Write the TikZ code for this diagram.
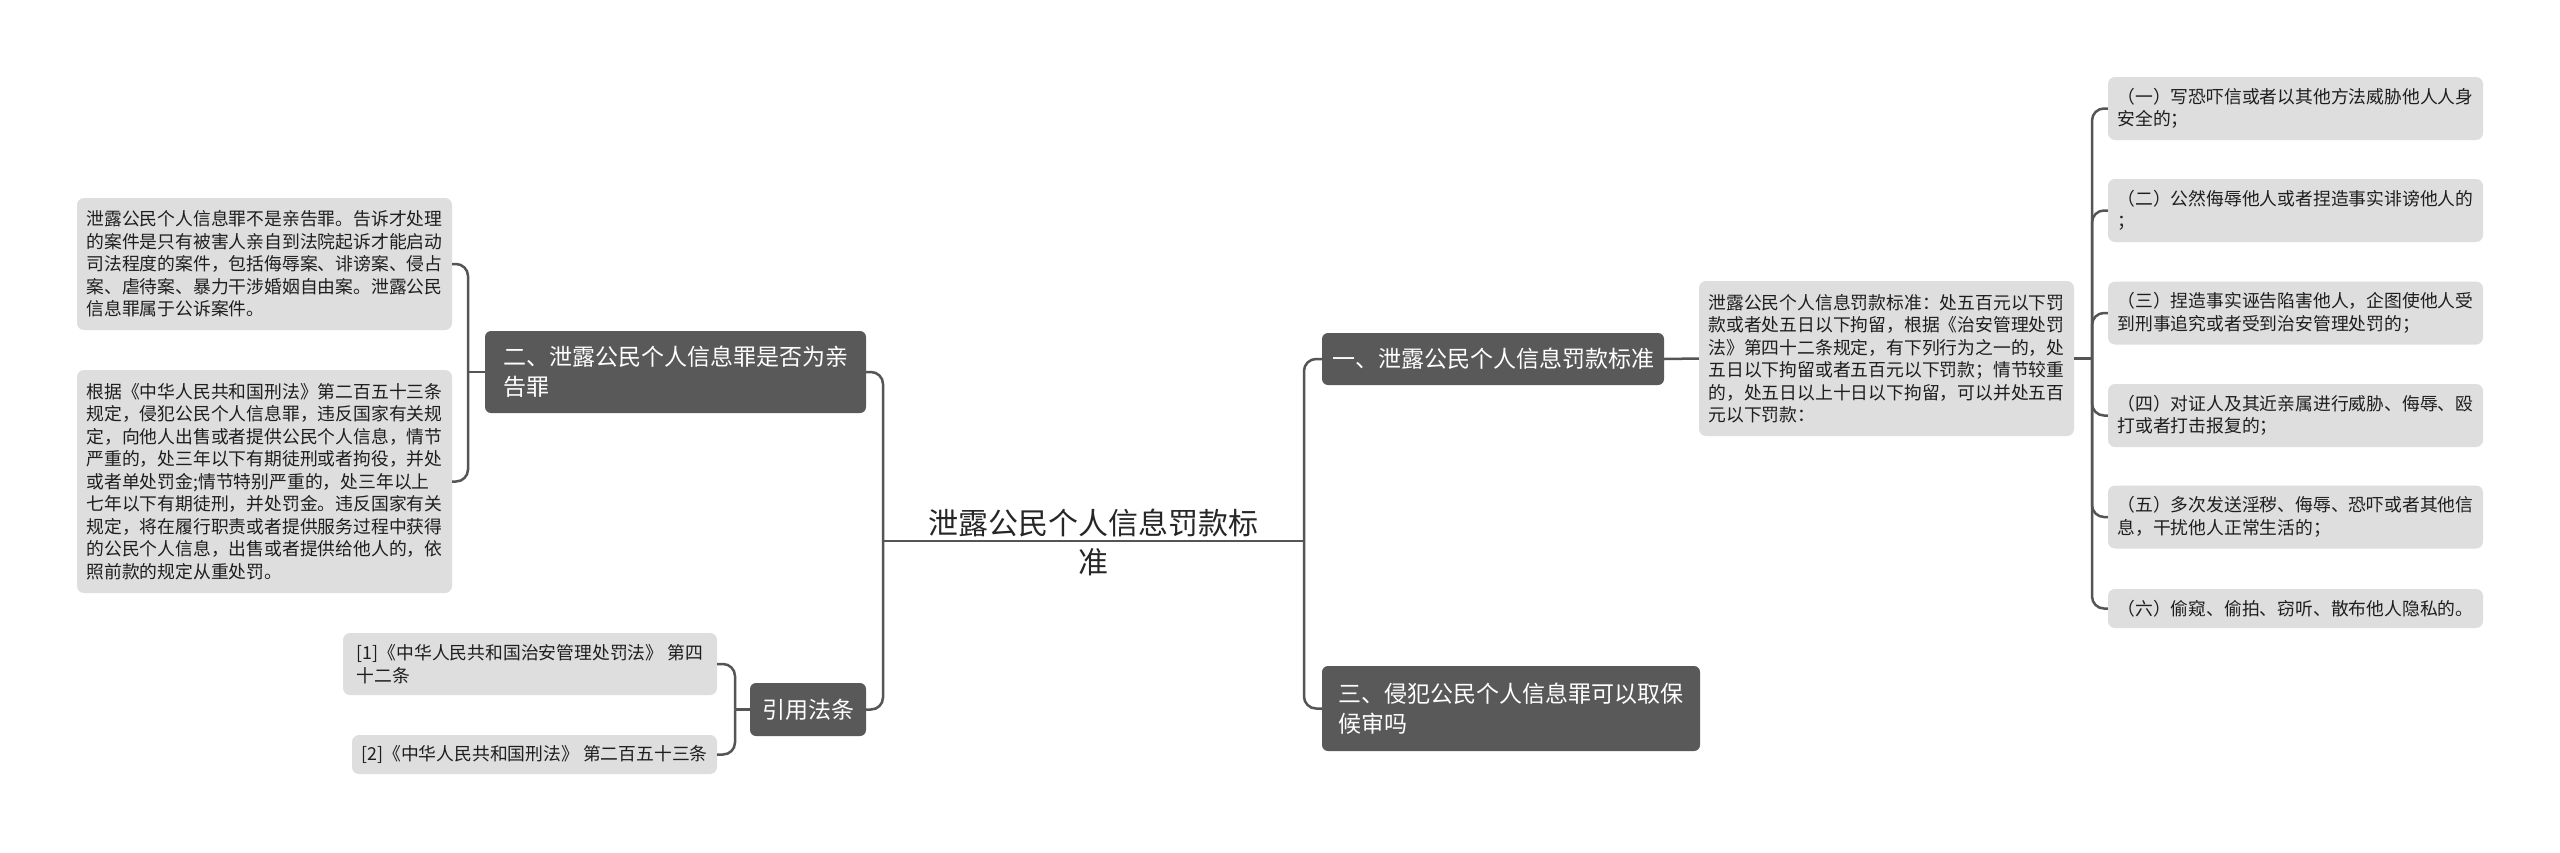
\documentclass[tikz,border=0pt]{standalone}
\usepackage{fontspec}
\setmainfont{Noto Sans CJK SC}
\definecolor{lightbox}{RGB}{222,222,222}
\definecolor{darkbox}{RGB}{89,89,89}
\definecolor{connc}{RGB}{85,85,85}
\definecolor{textdark}{RGB}{30,30,30}
\tikzset{
  lightnode/.style={fill=lightbox, rounded corners=7pt, text=textdark,
    font=\fontsize{17.8}{22.5}\selectfont, align=left, inner xsep=8pt, inner ysep=0pt, anchor=center},
  darknode/.style={fill=darkbox, rounded corners=6pt, text=white,
    font=\fontsize{23}{30}\selectfont, align=left, inner xsep=10pt, inner ysep=0pt, anchor=center},
  conn/.style={draw=connc, line width=2.5pt, rounded corners=12pt},
}
\begin{document}
\begin{tikzpicture}[x=1pt,y=-1pt]
\fill[white] (0,0) rectangle (2560,852);
\useasboundingbox (0,0) rectangle (2560,852);

% junctions
\coordinate (jL) at (883,541);
\coordinate (jR) at (1304,541);
\coordinate (k2) at (468,372);
\coordinate (kref) at (735,709.5);
\coordinate (kd) at (2092,358.5);

% main branches
\node[darknode, minimum width=381pt, minimum height=82pt] (b2) at (675.5,372) {二、泄露公民个人信息罪是否为亲\\告罪};
\node[darknode, minimum width=116pt, minimum height=53pt, align=center] (bref) at (808,709.5) {引用法条};
\node[darknode, minimum width=342pt, minimum height=52pt] (b1) at (1493,359) {一、泄露公民个人信息罚款标准};
\node[darknode, minimum width=378pt, minimum height=85pt] (b3) at (1511,708.5) {三、侵犯公民个人信息罪可以取保\\候审吗};

% left details
\node[lightnode, minimum width=375pt, minimum height=132pt] (l1) at (264.5,264) {泄露公民个人信息罪不是亲告罪。告诉才处理\\的案件是只有被害人亲自到法院起诉才能启动\\司法程度的案件，包括侮辱案、诽谤案、侵占\\案、虐待案、暴力干涉婚姻自由案。泄露公民\\信息罪属于公诉案件。};
\node[lightnode, minimum width=375pt, minimum height=223pt] (l2) at (264.5,481.5) {根据《中华人民共和国刑法》第二百五十三条\\规定，侵犯公民个人信息罪，违反国家有关规\\定，向他人出售或者提供公民个人信息，情节\\严重的，处三年以下有期徒刑或者拘役，并处\\或者单处罚金;情节特别严重的，处三年以上\\七年以下有期徒刑，并处罚金。违反国家有关\\规定，将在履行职责或者提供服务过程中获得\\的公民个人信息，出售或者提供给他人的，依\\照前款的规定从重处罚。};

% references
\node[lightnode, minimum width=374pt, minimum height=62pt] (r1) at (530,664) {[1]《中华人民共和国治安管理处罚法》 第四\\十二条};
\node[lightnode, minimum width=365pt, minimum height=39pt, align=center] (r2) at (534.5,754.5) {[2]《中华人民共和国刑法》 第二百五十三条};

% right detail
\node[lightnode, minimum width=375pt, minimum height=155pt] (d) at (1886.5,358.5) {泄露公民个人信息罚款标准：处五百元以下罚\\款或者处五日以下拘留，根据《治安管理处罚\\法》第四十二条规定，有下列行为之一的，处\\五日以下拘留或者五百元以下罚款；情节较重\\的，处五日以上十日以下拘留，可以并处五百\\元以下罚款：};

% items
\node[lightnode, minimum width=375pt, minimum height=63pt] (i1) at (2295.5,108.5) {（一）写恐吓信或者以其他方法威胁他人人身\\安全的；};
\node[lightnode, minimum width=375pt, minimum height=63pt] (i2) at (2295.5,210.5) {（二）公然侮辱他人或者捏造事实诽谤他人的\\；};
\node[lightnode, minimum width=375pt, minimum height=63pt] (i3) at (2295.5,313) {（三）捏造事实诬告陷害他人，企图使他人受\\到刑事追究或者受到治安管理处罚的；};
\node[lightnode, minimum width=375pt, minimum height=63pt] (i4) at (2295.5,415.5) {（四）对证人及其近亲属进行威胁、侮辱、殴\\打或者打击报复的；};
\node[lightnode, minimum width=375pt, minimum height=63pt] (i5) at (2295.5,517) {（五）多次发送淫秽、侮辱、恐吓或者其他信\\息，干扰他人正常生活的；};
\node[lightnode, minimum width=375pt, minimum height=39pt] (i6) at (2295.5,608.5) {（六）偷窥、偷拍、窃听、散布他人隐私的。};

% connectors
\draw[conn] (jL) -- (jR);
\draw[conn] (jR) |- (b1.west);
\draw[conn] (jR) |- (b3.west);
\draw[conn] (jL) |- (b2.east);
\draw[conn] (jL) |- (bref.east);
\draw[conn] (b2.west) -- (k2);
\draw[conn] (k2) |- (l1.east);
\draw[conn] (k2) |- (l2.east);
\draw[conn] (bref.west) -- (kref);
\draw[conn] (kref) |- (r1.east);
\draw[conn] (kref) |- (r2.east);
\draw[conn] (b1.east) -- (d.west);
\draw[conn] (d.east) -- (kd);
\foreach \i in {i1,i2,i3,i4,i5,i6} { \draw[conn] (kd) |- (\i.west); }

% root
\node[font=\fontsize{30}{39}\selectfont, align=center, text=black!85, inner sep=0pt] (root) at (1093,542) {泄露公民个人信息罚款标\\准};
\end{tikzpicture}
\end{document}
